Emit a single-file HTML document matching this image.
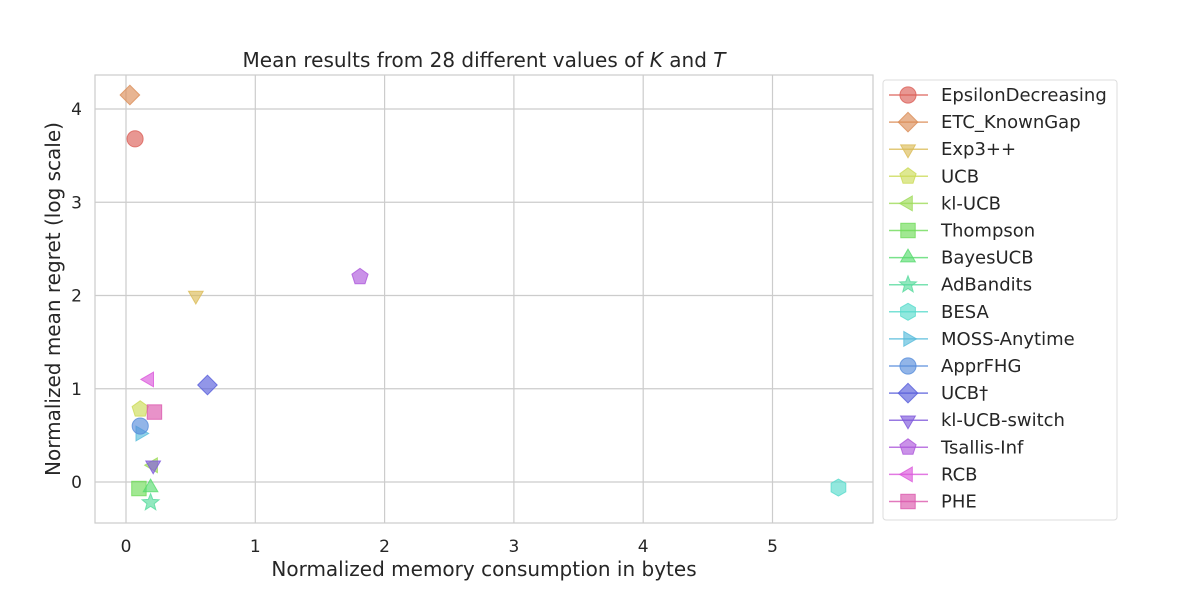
<!DOCTYPE html>
<html><head><meta charset="utf-8"><style>
body{margin:0;background:#fff;font-family:"Liberation Sans","DejaVu Sans",sans-serif;}
svg text{font-family:"DejaVu Sans","Liberation Sans",sans-serif;fill:#262626;}
</style></head><body>
<svg id="chart" width="1200" height="600">
<text x="484" y="67" text-anchor="middle" font-size="20">Mean results from 28 different values of <tspan font-style="italic">K</tspan> and <tspan font-style="italic">T</tspan></text>
<g id="grid"></g>
<rect x="95" y="75" width="778" height="448" fill="none" stroke="#ccc" stroke-width="1.2"/>
<g id="marks"></g>
<text x="484" y="576" text-anchor="middle" font-size="20">Normalized memory consumption in bytes</text>
<text transform="translate(60,299) rotate(-90)" text-anchor="middle" font-size="20">Normalized mean regret (log scale)</text>
<rect x="883" y="80" width="234" height="440" rx="3" fill="#fff" stroke="#ddd"/>
<g id="legend"></g>
</svg>
<script>
const names=["EpsilonDecreasing","ETC_KnownGap","Exp3++","UCB","kl-UCB","Thompson","BayesUCB","AdBandits","BESA","MOSS-Anytime","ApprFHG","UCB†","kl-UCB-switch","Tsallis-Inf","RCB","PHE"];
const xVals=[0.07,0.03,0.54,0.11,0.21,0.10,0.19,0.19,5.51,0.11,0.11,0.63,0.21,1.81,0.18,0.22];
const yVals=[3.68,4.15,2.0,0.78,0.18,-0.07,-0.06,-0.22,-0.06,0.52,0.6,1.04,0.18,2.2,1.1,0.75];
const markerTypes=["o","D","v","p","<","s","^","*","h",">","o","D","v","p","<","s"];
const xTicks=[0,1,2,3,4,5];
const yTicks=[0,1,2,3,4];
const NS="http://www.w3.org/2000/svg";
const X=v=>126+v*129.3, Y=v=>482-v*93.25;
function mk(tag,attrs,parent){const e=document.createElementNS(NS,tag);for(const k in attrs)e.setAttribute(k,attrs[k]);parent.appendChild(e);return e;}
const grid=document.getElementById('grid');
xTicks.forEach(t=>{
 const l=mk('line',{x1:X(t),x2:X(t),y1:75,y2:523,stroke:'#ccc','stroke-width':1.2},grid);
 
 
 const tx=mk('text',{x:X(t),y:552,'text-anchor':'middle','font-size':17},grid);tx.textContent=t;
 
 
});
yTicks.forEach(t=>{
 const l=mk('line',{x1:95,x2:873,y1:Y(t),y2:Y(t),stroke:'#ccc','stroke-width':1.2},grid);
 
 
 const tx=mk('text',{x:82,y:Y(t)+6,'text-anchor':'end','font-size':17},grid);tx.textContent=t;
 
 
});
function color(i){return `hsl(${3.6+i*360/17},65%,60%)`;}
function shape(type,cx,cy,r,parent,c){
 let e;
 const poly=(pts)=>mk('polygon',{points:pts.map(p=>(cx+p[0]).toFixed(1)+','+(cy+p[1]).toFixed(1)).join(' ')},parent);
 const reg=(n,rr,rot)=>{const p=[];for(let k=0;k<n;k++){const a=rot+k*2*Math.PI/n;p.push([rr*Math.cos(a),rr*Math.sin(a)]);}return p;};
 if(type==='o')e=mk('circle',{cx,cy,r:r*0.95},parent);
 else if(type==='D')e=poly([[0,-r*1.15],[r*1.15,0],[0,r*1.15],[-r*1.15,0]]);
 else if(type==='s')e=mk('rect',{x:cx-r*0.85,y:cy-r*0.85,width:r*1.7,height:r*1.7},parent);
 else if(type==='v')e=poly(reg(3,r,Math.PI/2));
 else if(type==='^')e=poly(reg(3,r,-Math.PI/2));
 else if(type==='<')e=poly(reg(3,r,Math.PI));
 else if(type==='>')e=poly(reg(3,r,0));
 else if(type==='p')e=poly(reg(5,r,-Math.PI/2));
 else if(type==='h')e=poly(reg(6,r,-Math.PI/2));
 else if(type==='*'){const p=[];for(let k=0;k<10;k++){const a=-Math.PI/2+k*Math.PI/5;const rr=k%2?r*0.45:r*1.05;p.push([rr*Math.cos(a),rr*Math.sin(a)]);}e=poly(p);}
 e.setAttribute('fill',c);e.setAttribute('fill-opacity',0.65);e.setAttribute('stroke',c);e.setAttribute('stroke-opacity',0.8);e.setAttribute('stroke-width',1);
 return e;
}
const marks=document.getElementById('marks'),leg=document.getElementById('legend');
names.forEach((n,i)=>{
 const m=shape(markerTypes[i],X(xVals[i]),Y(yVals[i]),8.5,marks,color(i));
 
 
 const y=95+i*27.1;
 const g=mk('g',{},leg);
 
 
 mk('line',{x1:889,x2:928,y1:y,y2:y,stroke:color(i),'stroke-width':1.5,'stroke-opacity':0.8},g);
 shape(markerTypes[i],908,y,8.5,g,color(i));
 const t=mk('text',{x:941,y:y+6,'font-size':18},g);t.textContent=n;
});
</script>
</body></html>
